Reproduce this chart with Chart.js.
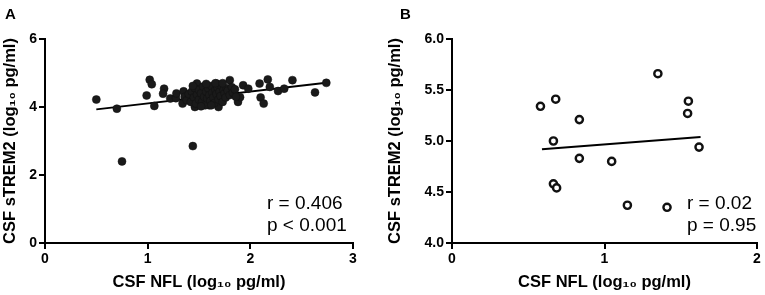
<!DOCTYPE html>
<html>
<head>
<meta charset="utf-8">
<script src="https://cdn.jsdelivr.net/npm/chart.js@4.4.1/dist/chart.umd.min.js"></script>
<style>
  html, body { margin: 0; padding: 0; background: #ffffff; }
  body { width: 765px; height: 295px; position: relative; overflow: hidden; }
  .panel { position: absolute; top: 0; width: 380px; height: 295px; }
  #wrapA { left: 0; }
  #wrapB { left: 385px; }
</style>
</head>
<body>
<div class="panel" id="wrapA"><canvas id="chartA" width="380" height="295"></canvas></div>
<div class="panel" id="wrapB"><canvas id="chartB" width="380" height="295"></canvas></div>
<script>
// ---------- Panel A data (CSF NFL vs CSF sTREM2, log10 pg/ml) ----------
const nflA = [
  0.50, 0.70, 0.75, 1.02, 1.04, 0.99, 1.065, 1.16, 1.15, 1.22, 1.275, 1.28, 1.35, 1.34,
  1.48, 1.46, 1.44, 1.60, 1.69, 1.67, 1.80, 1.93, 1.98, 1.88, 1.90, 2.09, 2.17, 2.19,
  2.10, 2.13, 2.27, 2.33, 2.41, 2.63, 2.74,
  1.36, 1.38, 1.40, 1.42, 1.43, 1.45, 1.46, 1.47, 1.48, 1.50, 1.50, 1.52, 1.53, 1.54,
  1.55, 1.56, 1.57, 1.58, 1.59, 1.60, 1.61, 1.62, 1.63, 1.64, 1.65, 1.66, 1.67, 1.68,
  1.69, 1.70, 1.71, 1.72, 1.73, 1.74, 1.75, 1.76, 1.77, 1.78, 1.80, 1.82, 1.83, 1.85,
  1.86, 1.62, 1.57, 1.52, 1.44, 1.66, 1.73
];
const strem2A = [
  4.22, 3.95, 2.40, 4.80, 4.67, 4.34, 4.03, 4.54, 4.39, 4.25, 4.26, 4.40, 4.46, 4.10,
  4.69, 4.00, 2.85, 4.05, 4.00, 4.69, 4.79, 4.64, 4.54, 4.15, 4.29, 4.69, 4.81, 4.59,
  4.28, 4.10, 4.47, 4.54, 4.79, 4.43, 4.71,
  4.30, 4.20, 4.38, 4.15, 4.45, 4.28, 4.55, 4.10, 4.36, 4.22, 4.50, 4.40, 4.15, 4.60,
  4.30, 4.05, 4.45, 4.25, 4.55, 4.35, 4.18, 4.62, 4.42, 4.28, 4.12, 4.50, 4.38, 4.58,
  4.22, 4.45, 4.32, 4.62, 4.15, 4.50, 4.40, 4.28, 4.55, 4.48, 4.35, 4.58, 4.42, 4.52,
  4.30, 4.05, 4.68, 4.02, 4.62, 4.70, 4.70
];
const fitXA = [0.50, 2.74];
const fitYA = [3.93, 4.71];
const statsA = ["r = 0.406", "p < 0.001"];

// ---------- Panel B data ----------
const nflB = [0.58, 0.68, 0.835, 0.665, 1.35, 1.55, 1.545, 1.62, 0.835, 1.047, 0.665, 0.686, 1.15, 1.41];
const strem2B = [5.34, 5.41, 5.21, 5.00, 5.66, 5.39, 5.27, 4.94, 4.83, 4.80, 4.58, 4.54, 4.37, 4.35];
const fitXB = [0.59, 1.63];
const fitYB = [4.92, 5.04];
const statsB = ["r = 0.02", "p = 0.95"];

// ---------- Axis text ----------
const xTitle = "CSF NFL (log\u2081\u2080 pg/ml)";
const yTitle = "CSF sTREM2 (log\u2081\u2080 pg/ml)";

const FONT = "'Liberation Sans', Arial, Helvetica, sans-serif";

function pts(xs, ys) { return xs.map((x, i) => ({ x: x, y: ys[i] })); }

const textPlugin = {
  id: 'panelText',
  afterDraw(chart, args, opts) {
    const ctx = chart.ctx;
    ctx.save();
    ctx.fillStyle = '#000';
    ctx.textAlign = 'left';
    ctx.textBaseline = 'alphabetic';
    ctx.font = 'bold 15px ' + FONT;
    ctx.fillText(opts.label, opts.labelX, 18.5);
    ctx.font = '19px ' + FONT;
    ctx.fillText(opts.stats[0], opts.statX, 208.5);
    ctx.fillText(opts.stats[1], opts.statX, 231);
    ctx.restore();
  }
};

function makeChart(id, cfg) {
  const axisCommon = (min, max, step, fmt, isY, fitSize) => ({
    type: 'linear',
    min: min, max: max,
    border: { display: true, color: '#000', width: 2 },
    grid: { drawOnChartArea: false, drawTicks: true, tickLength: 6, color: '#000', lineWidth: 2 },
    ticks: {
      stepSize: step, color: '#000', padding: 2,
      font: { family: FONT, size: 14, weight: 'bold' },
      callback: fmt
    },
    title: {
      display: true,
      text: isY ? yTitle : xTitle,
      color: '#000',
      font: { family: FONT, size: 16.5, weight: 'bold' },
      padding: isY ? { top: 1, bottom: 0 } : { top: 0, bottom: 3 }
    },
    afterFit(scale) {
      if (isY) scale.width = fitSize; else scale.height = fitSize;
    }
  });

  return new Chart(document.getElementById(id), {
    type: 'scatter',
    data: {
      datasets: [
        {
          type: 'scatter',
          data: pts(cfg.xs, cfg.ys),
          pointRadius: cfg.radius,
          pointHoverRadius: cfg.radius,
          pointBackgroundColor: cfg.fill,
          pointBorderColor: '#111',
          pointBorderWidth: cfg.borderW,
          order: 1
        },
        {
          type: 'line',
          data: pts(cfg.fitX, cfg.fitY),
          borderColor: '#000',
          borderWidth: 2,
          pointRadius: 0,
          fill: false,
          order: 2
        }
      ]
    },
    options: {
      responsive: false,
      animation: false,
      devicePixelRatio: 1,
      layout: { padding: { top: 39, right: cfg.padRight, bottom: 0, left: 0 } },
      plugins: {
        legend: { display: false },
        tooltip: { enabled: false },
        panelText: { label: cfg.label, labelX: cfg.labelX, stats: cfg.stats, statX: cfg.statX }
      },
      scales: {
        x: axisCommon(cfg.xMin, cfg.xMax, 1, v => String(v), false, 52),
        y: axisCommon(cfg.yMin, cfg.yMax, cfg.yStep, cfg.yFmt, true, cfg.yWidth)
      }
    },
    plugins: [textPlugin]
  });
}

makeChart('chartA', {
  xs: nflA, ys: strem2A, fitX: fitXA, fitY: fitYA,
  radius: 4, fill: '#1a1a1a', borderW: 0.5,
  xMin: 0, xMax: 3, yMin: 0, yMax: 6, yStep: 2, yFmt: v => String(v),
  yWidth: 45, padRight: 27,
  label: 'A', labelX: 5, stats: statsA, statX: 267
});

makeChart('chartB', {
  xs: nflB, ys: strem2B, fitX: fitXB, fitY: fitYB,
  radius: 3.6, fill: '#ffffff', borderW: 2.4,
  xMin: 0, xMax: 2, yMin: 4, yMax: 6, yStep: 0.5, yFmt: v => v.toFixed(1),
  yWidth: 67, padRight: 8,
  label: 'B', labelX: 15, stats: statsB, statX: 302
});
</script>
</body>
</html>
